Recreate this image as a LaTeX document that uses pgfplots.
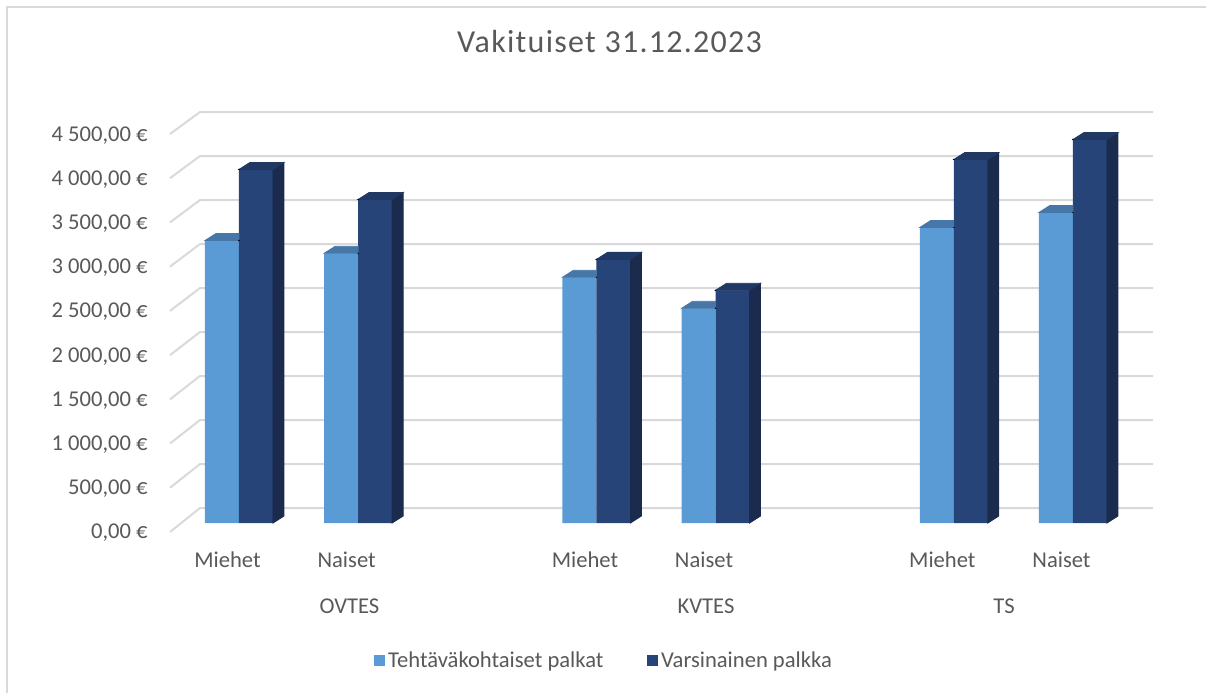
\documentclass[border=0pt]{standalone}
\usepackage{pgfplots}
\pgfplotsset{compat=1.18}
\usepackage{pgfplotstable}
\usepackage{fontspec}
\setmainfont{Carlito}
\newfontfamily\titlefont[LetterSpace=4]{Carlito}
\definecolor{lightfront}{HTML}{5B9BD5}
\definecolor{lighttop}{HTML}{4677A8}
\definecolor{darkfront}{HTML}{264478}
\definecolor{darktop}{HTML}{1F3864}
\definecolor{darkside}{HTML}{1B2B4D}
\definecolor{txt}{HTML}{595959}
\definecolor{gridc}{HTML}{D9D9D9}

\pgfplotstableread{
x t v
0 3200 4005
1 3055 3665
3 2783 2986
4 2432 2636
6 3348 4118
7 3518 4344
}\data
\def\yunit{0.04415}
\pgfplotsset{
  % full top and side faces of the front (dark) bar, centre shifted by +8.5pt
  darkfaces/.style={
    only marks, scatter, forget plot,
    mark=*, mark size=0.1pt, mark options={draw=none,fill=none},
    visualization depends on={\thisrow{#1}\as\barval},
    scatter/@pre marker code/.code={%
      \pgfmathsetmacro\hh{\barval*\yunit}%
      \fill[darkside] (17pt,0pt) -- ++(5.5pt,3.5pt) -- ++(0pt,-\hh pt) -- ++(-5.5pt,-3.5pt) -- cycle;
      \fill[darktop] (0pt,0pt) -- ++(5.5pt,3.5pt) -- ++(17pt,0pt) -- ++(-5.5pt,-3.5pt) -- cycle;
    },
    scatter/@post marker code/.code={},
  },
  % visible part of the top face of the light bar (left of the dark bar)
  lightfaces/.style={
    only marks, scatter, forget plot,
    mark=*, mark size=0.1pt, mark options={draw=none,fill=none},
    scatter/@pre marker code/.code={%
      \fill[lighttop] (-17pt,0pt) -- ++(5.5pt,3.5pt) -- (0pt,3.5pt) -- (0pt,0pt) -- cycle;
    },
    scatter/@post marker code/.code={},
  },
}
\newcommand\lblfont{\fontsize{11.3}{13}\selectfont}
\begin{document}
\begin{tikzpicture}
\path[use as bounding box] (0,0) rectangle (603pt,346.5pt);
\begin{scope}[x=0.5pt,y=-0.5pt,yshift=346.5pt]
  \draw[gridc, line width=1pt] (7,693) -- (7,7) -- (1206,7);
  \foreach \v in {0,500,...,4500}{
    \draw[gridc, line width=1pt] (170,{532-0.08844*\v}) -- (200,{508-0.088*\v}) -- (1153,{508-0.088*\v});
  }
  \node[anchor=base, font=\titlefont\fontsize{16}{19}\selectfont, text=txt] at (609.5,52) {Vakituiset 31.12.2023};
\end{scope}
\begin{axis}[
  at={(89.71pt,85pt)}, anchor=south west,
  x=59.57pt, y=0.04415pt,
  xmin=-0.5, xmax=7.5, ymin=0, ymax=4600,
  clip=false,
  axis line style={draw=none},
  major tick length=0pt,
  ytick={0,500,...,4500},
  yticklabels={{0,00 €},{500,00 €},{1 000,00 €},{1 500,00 €},{2 000,00 €},{2 500,00 €},{3 000,00 €},{3 500,00 €},{4 000,00 €},{4 500,00 €}},
  yticklabel style={anchor=base east, inner sep=0pt, xshift=-15.7pt, yshift=-7.8pt, font=\lblfont, text=txt},
  xtick={0,1,3,4,6,7},
  xticklabels={Miehet,Naiset,Miehet,Naiset,Miehet,Naiset},
  xticklabel style={anchor=base, inner sep=0pt, xshift=-5.75pt, yshift=-22pt, font=\lblfont, text=txt},
  legend style={at={(0.446,-0.3397)}, anchor=center, draw=none, fill=none, legend columns=2, font=\lblfont, text=txt, nodes={inner sep=1.4pt}, /tikz/every even column/.append style={column sep=20.5pt}},
]
\addplot[ybar, bar width=17pt, bar shift=-8.5pt, fill=lightfront, draw=none,
  legend image code/.code={\fill[lightfront] (0pt,-2.75pt) rectangle (5.5pt,2.75pt);}]
  table[x=x,y=t]{\data};
\addlegendentry{Tehtäväkohtaiset palkat}
\addplot[lightfaces] table[x=x,y=t]{\data};
\addplot[ybar, bar width=17pt, bar shift=8.5pt, fill=darkfront, draw=none,
  legend image code/.code={\fill[darkfront] (0pt,-2.75pt) rectangle (5.5pt,2.75pt);}]
  table[x=x,y=v]{\data};
\addlegendentry{Varsinainen palkka}
\addplot[darkfaces=v] table[x=x,y=v]{\data};
\node[anchor=base, yshift=-45pt, font=\lblfont, text=txt] at (axis cs:0.9275,0) {OVTES};
\node[anchor=base, yshift=-45pt, font=\lblfont, text=txt] at (axis cs:3.9198,0) {KVTES};
\node[anchor=base, yshift=-45pt, font=\lblfont, text=txt] at (axis cs:6.421,0) {TS};
\end{axis}
\end{tikzpicture}
\end{document}
